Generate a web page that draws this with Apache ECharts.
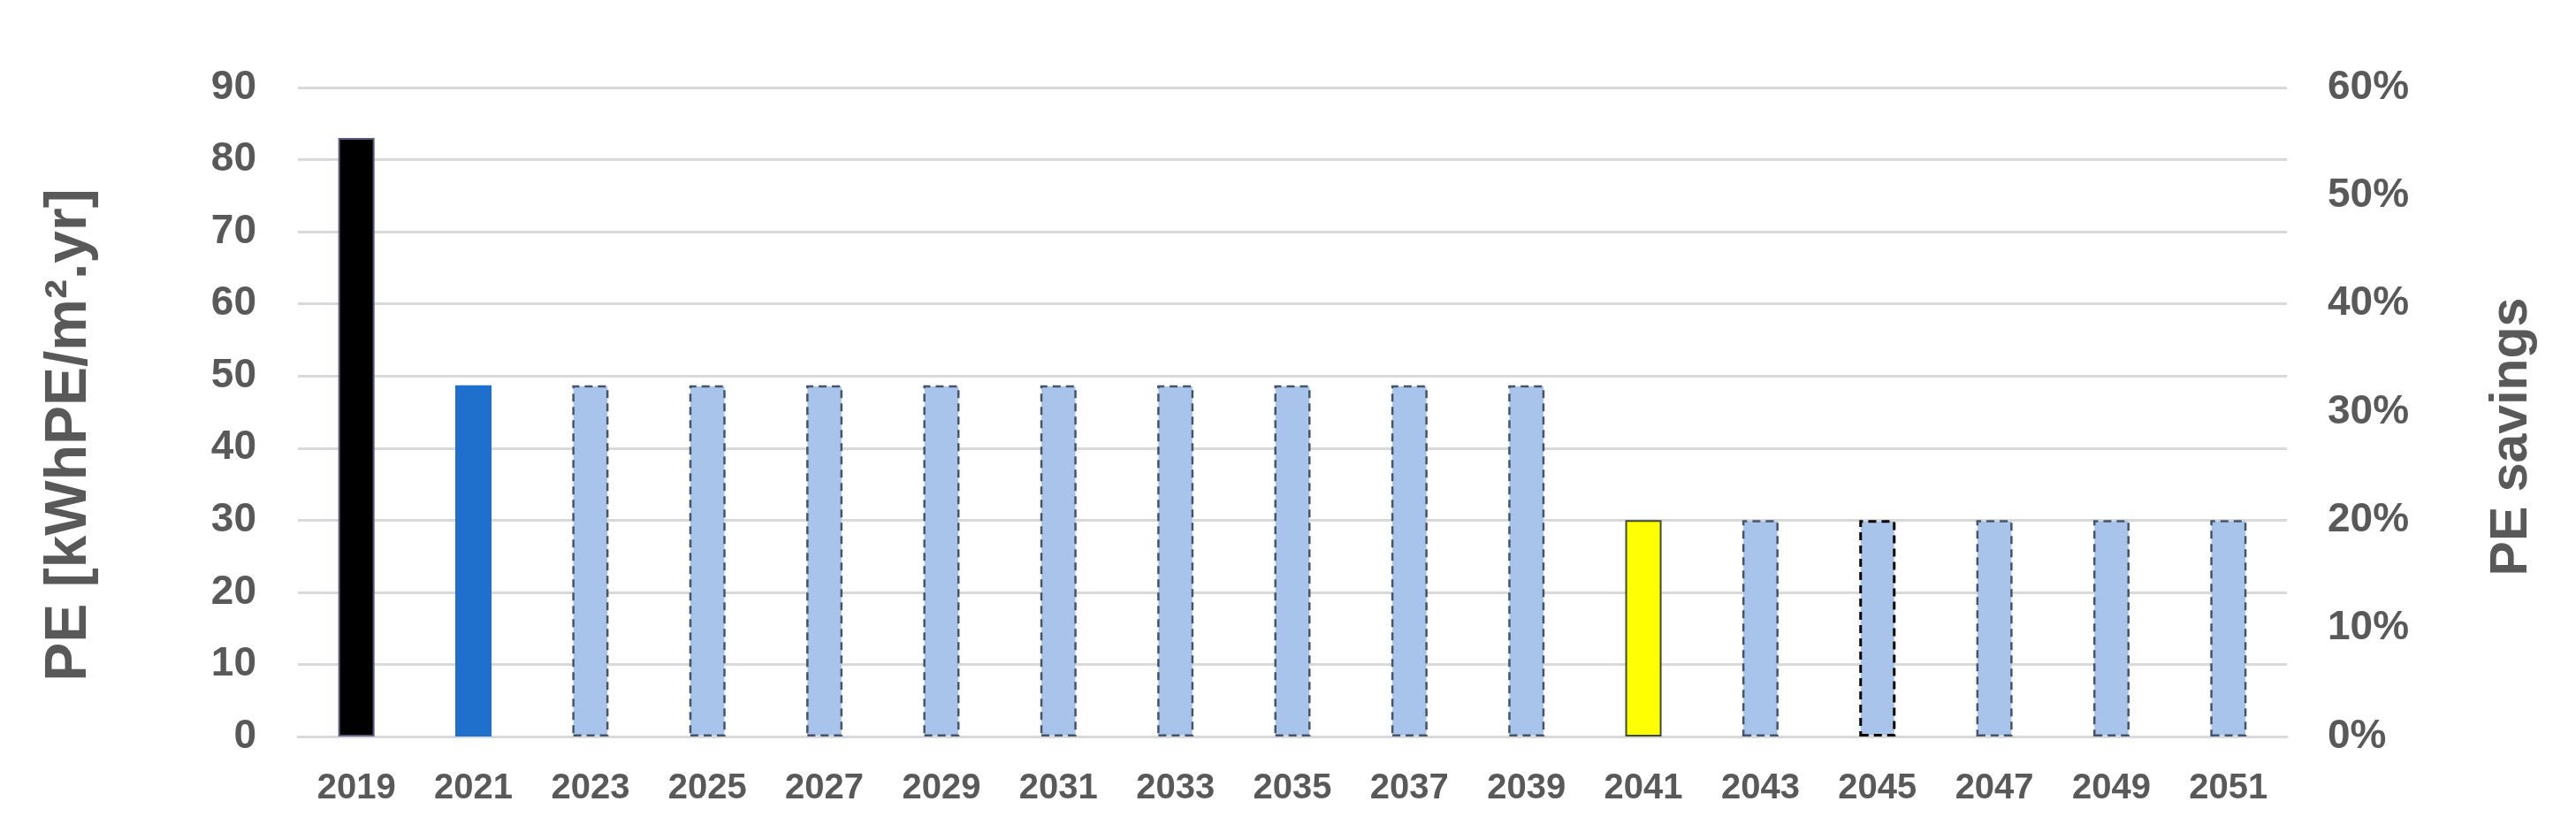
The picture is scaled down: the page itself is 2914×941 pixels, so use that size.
<!DOCTYPE html>
<html>
<head>
<meta charset="utf-8">
<script src="https://cdn.jsdelivr.net/npm/echarts@6/dist/echarts.min.js"></script>
<style>
  html, body { margin: 0; padding: 0; background: #fff; }
  #chart { width: 2914px; height: 941px; }
</style>
</head>
<body>
<div id="chart"></div>
<script>
// categories and values
const years = ['2019', '2021', '2023', '2025', '2027', '2029', '2031', '2033', '2035',
  '2037', '2039', '2041', '2043', '2045', '2047', '2049', '2051'];
const peValues = [83, 48.7, 48.7, 48.7, 48.7, 48.7, 48.7, 48.7, 48.7, 48.7, 48.7,
  30, 30, 30, 30, 30, 30];
const leftTicks = [0, 10, 20, 30, 40, 50, 60, 70, 80, 90];
const rightTicks = [0, 0.1, 0.2, 0.3, 0.4, 0.5, 0.6];

const textColor = '#595959';
const gridColor = '#d9d9d9';
const tickFont = '"Liberation Sans", Arial, sans-serif';

// bar looks by year
const styleFor = year => {
  if (year === '2019') {
    return { color: '#000000', borderColor: '#5a5f80', borderWidth: 2 };
  }
  if (year === '2021') {
    return { color: '#1f6fcd', borderWidth: 0 };
  }
  if (year === '2041') {
    return { color: '#ffff00', borderColor: '#3b4a30', borderWidth: 2 };
  }
  if (year === '2045') {
    return { color: '#a9c4eb', borderColor: '#000000', borderWidth: 3, borderType: [9, 6] };
  }
  return { color: '#a9c4eb', borderColor: '#44546a', borderWidth: 2.5, borderType: [9, 6] };
};

const chart = echarts.init(document.getElementById('chart'));

const option = {
  animation: false,
  backgroundColor: '#ffffff',
  grid: {
    left: 337,
    right: 327,
    top: 99,
    bottom: 108,
    containLabel: false
  },
  xAxis: {
    type: 'category',
    data: years,
    axisTick: { show: false },
    axisLine: { lineStyle: { color: gridColor, width: 3 } },
    axisLabel: {
      color: textColor,
      fontFamily: tickFont,
      fontWeight: 'bold',
      fontSize: 40,
      margin: 39,
      interval: 0
    }
  },
  yAxis: [
    {
      type: 'value',
      min: leftTicks[0],
      max: leftTicks[leftTicks.length - 1],
      interval: 10,
      name: 'PE [kWhPE/m².yr]',
      nameLocation: 'middle',
      nameGap: 225,
      nameTextStyle: {
        color: textColor,
        fontFamily: tickFont,
        fontWeight: 'bold',
        fontSize: 66,
        padding: [0, 52, 0, 0]
      },
      axisLine: { show: false },
      axisTick: { show: false },
      splitLine: { lineStyle: { color: gridColor, width: 3 } },
      axisLabel: {
        color: textColor,
        fontFamily: tickFont,
        fontWeight: 'bold',
        fontSize: 46,
        margin: 47
      }
    },
    {
      type: 'value',
      position: 'right',
      min: rightTicks[0],
      max: rightTicks[rightTicks.length - 1],
      interval: 0.1,
      name: 'PE savings',
      nameLocation: 'middle',
      nameGap: 225,
      nameTextStyle: {
        color: textColor,
        fontFamily: tickFont,
        fontWeight: 'bold',
        fontSize: 59,
        padding: [0, 56, 0, 0]
      },
      axisLine: { show: false },
      axisTick: { show: false },
      splitLine: { show: false },
      axisLabel: {
        color: textColor,
        fontFamily: tickFont,
        fontWeight: 'bold',
        fontSize: 46,
        margin: 46,
        formatter: v => Math.round(v * 100) + '%'
      }
    }
  ],
  series: [
    {
      type: 'bar',
      yAxisIndex: 0,
      barWidth: '31%',
      data: peValues.map((v, i) => ({ value: v, itemStyle: styleFor(years[i]) }))
    }
  ]
};

chart.setOption(option);
</script>
</body>
</html>
